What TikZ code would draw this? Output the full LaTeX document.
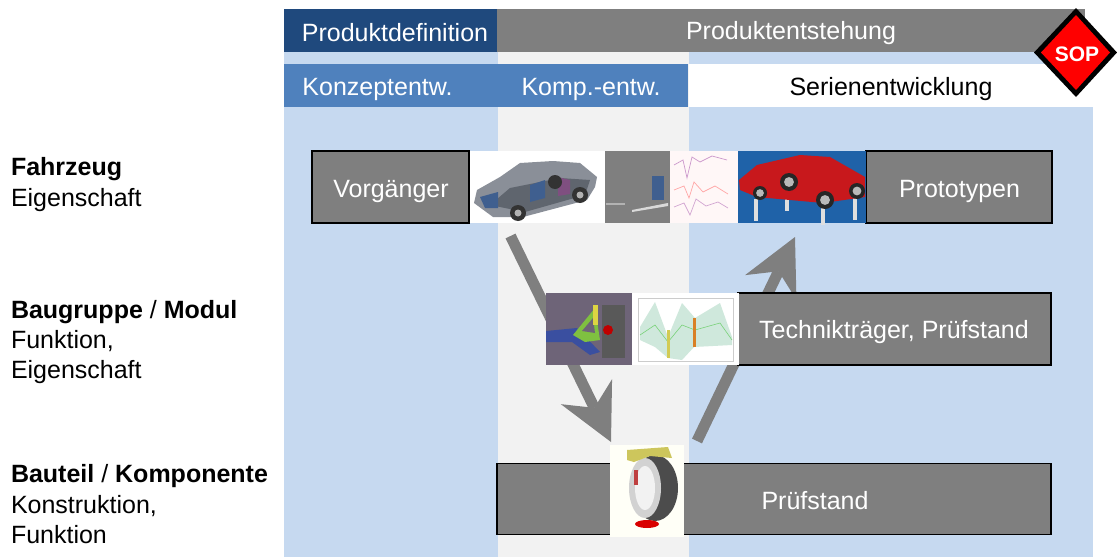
\documentclass[tikz,border=0pt]{standalone}
\usepackage{fontspec}
\setmainfont{Liberation Sans}
\usetikzlibrary{arrows.meta}
\definecolor{bandblue}{HTML}{C6D9F0}
\definecolor{bandgray}{HTML}{F2F2F2}
\definecolor{darkblue}{HTML}{1F497D}
\definecolor{midblue}{HTML}{4F81BD}
\definecolor{boxgray}{HTML}{7F7F7F}
\definecolor{carbody}{HTML}{8A8F98}
\definecolor{cardark}{HTML}{5F656E}
\definecolor{carblue}{HTML}{3F5F8F}
\definecolor{carviolet}{HTML}{7F4F80}
\definecolor{rigblue}{HTML}{1F62A8}
\definecolor{rigred}{HTML}{C8181C}
\definecolor{modbg}{HTML}{6E6478}
\definecolor{modblue}{HTML}{3A4FA0}
\definecolor{modgreen}{HTML}{7FC040}
\definecolor{envgreen}{HTML}{CFE8DC}
\tikzset{
  x=1pt,y=-1pt,
  every node/.style={font=\fontsize{25}{29.500}\selectfont,inner sep=0pt,outer sep=0pt},
  headbar/.style={text=white},
  greybox/.style={draw=black,line width=1.5pt,fill=boxgray,text=white},
  sidelabel/.style={align=left,anchor=north west,font=\fontsize{25}{29.500}\selectfont},
  bigarrow/.style={draw=boxgray,line width=11pt,
    -{Stealth[length=56pt,width=57pt,inset=18pt,line width=0pt,fill=boxgray]}},
}
\begin{document}
\begin{tikzpicture}
\useasboundingbox (0,0) rectangle (1117,557);
% background bands
\fill[bandblue] (284,52) rectangle (498,557);
\fill[bandgray] (498,52) rectangle (689,557);
\fill[bandblue] (689,52) rectangle (1093,557);
\fill[white] (689,64) rectangle (1093,107);
\fill[midblue] (284,64) rectangle (688,107);
\fill[darkblue] (284,9) rectangle (497,52);
\fill[boxgray] (497,9) rectangle (1085,52);
% header texts
\node[headbar] (pdef) at (395,33) {Produktdefinition};
\node[headbar] (pent) at (791,33.500) {Produktentstehung};
\node[headbar] (konz) at (377.500,89) {Konzeptentw.};
\node[headbar] (komp) at (591,89) {Komp.-entw.};
\node (serie) at (891,89) {Serienentwicklung};
% SOP sign
\fill[black] (1076,8) -- (1117,52.500) -- (1076,97) -- (1034,52.500) -- cycle;
\fill[red] (1076,15) -- (1110,52.500) -- (1076,90) -- (1041,52.500) -- cycle;
\node[text=white,font=\fontsize{21}{24}\selectfont\bfseries] (sop) at (1077,54.500) {SOP};
% side labels
\node[sidelabel] (fz) at (11,157) {\textbf{Fahrzeug}\\[1.5pt]Eigenschaft};
\node[sidelabel] (bg) at (11,300) {\textbf{Baugruppe} / \textbf{Modul}\\[.5pt]Funktion,\\[.5pt]Eigenschaft};
\node[sidelabel] (bt) at (11,464) {\textbf{Bauteil} / \textbf{Komponente}\\[2pt]Konstruktion,\\Funktion};
% connectors
\coordinate (dnstart) at (510.500,236);
\coordinate (dntip) at (611,442);
\coordinate (upstart) at (697,441);
\coordinate (uptip) at (795,237);
\draw[bigarrow] (dnstart) -- (dntip);
\draw[bigarrow] (upstart) -- (uptip);
% boxes
\node[greybox,minimum width=157pt,minimum height=72pt] (vorg) at (390.500,187) {};
\node[text=white] (vorgt) at (391,191.500) {Vorgänger};
\node[greybox,minimum width=186pt,minimum height=72pt] (proto) at (959,187) {};
\node[text=white] (protot) at (959.500,191.500) {Prototypen};
\node[greybox,minimum width=313pt,minimum height=72pt] (tech) at (894.500,329) {};
\node[text=white] (techt) at (894,332.500) {Technikträger, Prüfstand};
\node[greybox,minimum width=554pt,minimum height=71pt] (pruef) at (774,499) {};
\node[text=white] (prueft) at (815,501) {Prüfstand};
% image: transparent car
\fill[white] (470,151) rectangle (605,223);
\fill[carbody] (474,203) -- (477,190) -- (500,177) -- (520,163) -- (553,161) -- (580,163) -- (597,177) -- (595,187) -- (587,200) -- (523,217) -- (493,217) -- cycle;
\fill[cardark] (490,205) -- (510,188) -- (560,178) -- (590,180) -- (585,195) -- (525,212) -- cycle;
\fill[carblue] (480,197) -- (498,192) -- (498,208) -- (485,208) -- cycle;
\fill[carblue] (530,185) -- (545,180) -- (545,198) -- (530,202) -- cycle;
\fill[carviolet] (558,177) -- (570,180) -- (570,194) -- (558,196) -- cycle;
\fill[black!80] (518,213) circle (8);
\fill[black!80] (580,195) circle (8);
\fill[black!80] (555,182) circle (7);
\fill[gray!60] (518,213) circle (3.500);
\fill[gray!60] (580,195) circle (3.500);
% image: grey test scene
\fill[boxgray] (605,151) rectangle (670,223);
\fill[gray!30] (632,210) -- (668,203) -- (668,206) -- (632,212) -- cycle;
\fill[carblue] (652,176) rectangle (664,200);
\fill[gray!60] (606,203) rectangle (625,205);
% image: measurement plots
\fill[red!3] (670,151) rectangle (738,223);
\draw[violet!40,line width=.7pt] (674,165) -- (683,160) -- (687,178) -- (692,157) -- (700,162) -- (712,156) -- (727,160);
\draw[red!35,line width=.7pt] (674,190) -- (684,186) -- (689,198) -- (694,182) -- (703,192) -- (715,186) -- (728,194);
\draw[violet!35,line width=.7pt] (674,207) -- (684,203) -- (690,215) -- (696,199) -- (706,206) -- (718,202) -- (728,208);
% image: red car on posts
\fill[rigblue] (738,151) rectangle (866,223);
\foreach \px/\py in {756/213,787/203,823/217,855/212}
  \fill[gray!25] (\px-2,\py-14) rectangle (\px+2,\py+8);
\fill[rigred] (739,180) -- (757,165) -- (800,155) -- (830,157) -- (865,177) -- (865,197) -- (823,203) -- (757,197) -- (740,190) -- cycle;
\foreach \wx/\wy/\wr in {789/182/9,760/193/7,825/200/9,857/191/8}{
  \fill[black!85] (\wx,\wy) circle (\wr);
  \fill[gray!55] (\wx,\wy) circle (\wr*.55);
}
% image: module model
\fill[modbg] (546,293) rectangle (632,365);
\fill[black!65] (602,305) rectangle (625,358);
\fill[modblue] (546,331) -- (577,328) -- (600,352) -- (590,355) -- (572,342) -- (546,342) -- cycle;
\fill[modgreen] (573,335) -- (595,308) -- (600,340) -- (585,342) -- cycle;
\fill[modbg] (582,331) -- (593,318) -- (595,333) -- cycle;
\fill[yellow!70!gray] (593,305) rectangle (598,325);
\fill[red!75!black] (608,330) circle (5);
% image: envelope chart
\fill[white] (632,293) rectangle (739,365);
\draw[gray!40,line width=.5pt] (638,298) rectangle (733,361);
\fill[envgreen] (640,327) -- (655,302) -- (668,337) -- (682,303) -- (695,318) -- (720,303) -- (732,337) -- (732,345) -- (694,347) -- (682,360) -- (668,358) -- (655,347) -- (640,340) -- cycle;
\draw[gray!50!green!70,line width=.6pt] (640,335) -- (655,325) -- (668,342) -- (682,325) -- (695,330) -- (720,323) -- (732,340);
\fill[yellow!60!gray] (667,330) rectangle (670,358);
\fill[orange!70!gray] (693,318) rectangle (696,347);
% image: wheel
\fill[white!97!yellow] (610,445) rectangle (684,537);
\fill[black!70] (655,488) ellipse (23 and 33);
\fill[gray!35] (645,488) ellipse (16 and 30);
\fill[gray!10] (645,488) ellipse (10 and 22);
\fill[yellow!55!gray] (627,450) -- (668,447) -- (672,458) -- (650,456) -- (634,462) -- (627,460) -- cycle;
\fill[red!50!gray] (634,470) rectangle (638,485);
\fill[red!85!black] (647,524) ellipse (12 and 4);
\end{tikzpicture}
\end{document}
